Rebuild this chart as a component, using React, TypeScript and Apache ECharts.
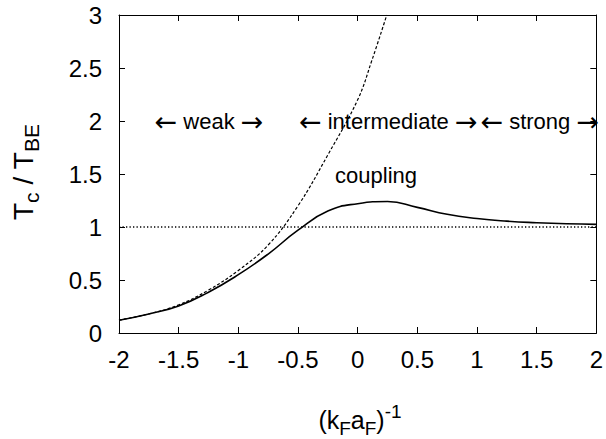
import React, { useEffect, useRef } from "react";
import * as echarts from "echarts";

// ---- data ----
const solidX = [-2, -1.75, -1.5, -1.25, -1, -0.75, -0.5, -0.25, 0, 0.25, 0.5, 0.75, 1, 1.25, 1.5, 1.75, 2];
const solidY = [0.12, 0.18, 0.255, 0.385, 0.55, 0.745, 0.97, 1.15, 1.22, 1.24, 1.185, 1.12, 1.08, 1.055, 1.04, 1.03, 1.025];

const bcsX = [-2, -1.75, -1.5, -1.25, -1, -0.75, -0.5, -0.25, 0, 0.12, 0.244];
const bcsY = [0.122, 0.18, 0.265, 0.405, 0.59, 0.83, 1.2, 1.68, 2.2, 2.575, 3.0];

const refX = [-2, 2];
const refY = [1, 1];

const xMin = -2, xMax = 2, xStep = 0.5;
const yMin = 0, yMax = 3, yStep = 0.5;

const LA = "\u2190";
const RA = "\u2192";
const regionWeak = ["weak"];
const regionInter = ["intermediate"];
const regionStrong = ["strong"];
const couplingText = "coupling";

const FONT = "'Liberation Sans', Arial, Helvetica, sans-serif";
const ARROW_FONT = "'DejaVu Sans', sans-serif";

const zip = (xs: number[], ys: number[]) => xs.map((x, i) => [x, ys[i]]);
const arrowText = (w: string) => `{a|${LA}}{t| ${w} }{a|${RA}}`;
const arrowRich = {
  a: { fontSize: 27, fontFamily: ARROW_FONT, lineHeight: 30, verticalAlign: "middle" },
  t: { fontSize: 22, fontFamily: FONT, lineHeight: 30, verticalAlign: "middle" },
};

export default function App() {
  const ref = useRef<HTMLDivElement>(null);
  useEffect(() => {
    if (!ref.current) return;
    const chart = echarts.init(ref.current, undefined, { renderer: "svg" });
    const axisLine = { show: true, onZero: false, lineStyle: { color: "#000", width: 1 } };
    const tick = { show: true, inside: true, length: 6, lineStyle: { color: "#000", width: 1 } };
    const label = { color: "#000", fontSize: 24, fontFamily: FONT };
    chart.setOption({
      animation: false,
      backgroundColor: "#fff",
      grid: { left: 119, right: 7, top: 15, bottom: 106, containLabel: false },
      xAxis: [
        {
          type: "value", min: xMin, max: xMax, interval: xStep, position: "bottom",
          axisLine, axisTick: tick, splitLine: { show: false },
          axisLabel: { ...label, margin: 14 },
        },
        {
          type: "value", min: xMin, max: xMax, interval: xStep, position: "top",
          axisLine, axisTick: tick, splitLine: { show: false }, axisLabel: { show: false },
        },
      ],
      yAxis: [
        {
          type: "value", min: yMin, max: yMax, interval: yStep, position: "left",
          axisLine, axisTick: tick, splitLine: { show: false },
          axisLabel: { ...label, margin: 17 },
        },
        {
          type: "value", min: yMin, max: yMax, interval: yStep, position: "right",
          axisLine, axisTick: tick, splitLine: { show: false }, axisLabel: { show: false },
        },
      ],
      series: [
        {
          type: "line", data: zip(refX, refY), showSymbol: false, symbol: "none",
          lineStyle: { color: "#000", width: 1.3, type: [1.3, 2.2] },
        },
        {
          type: "line", data: zip(bcsX, bcsY), showSymbol: false, symbol: "none",
          smooth: 0.4,
          lineStyle: { color: "#000", width: 1.2, type: [3, 2] },
        },
        {
          type: "line", data: zip(solidX, solidY), showSymbol: false, symbol: "none",
          smooth: 0.5,
          lineStyle: { color: "#000", width: 1.6 },
        },
      ],
      graphic: [
        {
          type: "text", x: 209, y: 121,
          style: { text: arrowText(regionWeak[0]), rich: arrowRich, fill: "#000", align: "center", verticalAlign: "middle" },
        },
        {
          type: "text", x: 299, y: 121,
          style: { text: arrowText(regionInter[0]), rich: arrowRich, fill: "#000", align: "left", verticalAlign: "middle" },
        },
        {
          type: "text", x: 599, y: 121,
          style: { text: arrowText(regionStrong[0]), rich: arrowRich, fill: "#000", align: "right", verticalAlign: "middle" },
        },
        {
          type: "text", x: 376, y: 175,
          style: { text: couplingText, fontSize: 22, fontFamily: FONT, fill: "#000", align: "center", verticalAlign: "middle" },
        },
        {
          type: "text", x: 23, y: 172, rotation: Math.PI / 2,
          style: {
            text: "{n|T}{s|c}{n| / T}{s|BE}",
            fontFamily: FONT, fill: "#000", align: "center", verticalAlign: "middle",
            rich: {
              n: { fontSize: 28, fontFamily: FONT, lineHeight: 38, verticalAlign: "middle" },
              s: { fontSize: 21, fontFamily: FONT, lineHeight: 19, verticalAlign: "bottom" },
            },
          },
        },
        {
          type: "text", x: 360, y: 420,
          style: {
            text: "{n|(k}{s|F}{n|a}{s|F}{n|)}{p|-1}",
            fontFamily: FONT, fill: "#000", align: "center", verticalAlign: "middle",
            rich: {
              n: { fontSize: 25, fontFamily: FONT, lineHeight: 36, verticalAlign: "middle" },
              s: { fontSize: 19, fontFamily: FONT, lineHeight: 18, verticalAlign: "bottom" },
              p: { fontSize: 19, fontFamily: FONT, lineHeight: 18, verticalAlign: "top" },
            },
          },
        },
      ],
    });
    return () => chart.dispose();
  }, []);
  return (
    <div
      ref={ref}
      style={{ position: "fixed", left: 0, top: 0, width: 606, height: 439, background: "#fff" }}
    />
  );
}
